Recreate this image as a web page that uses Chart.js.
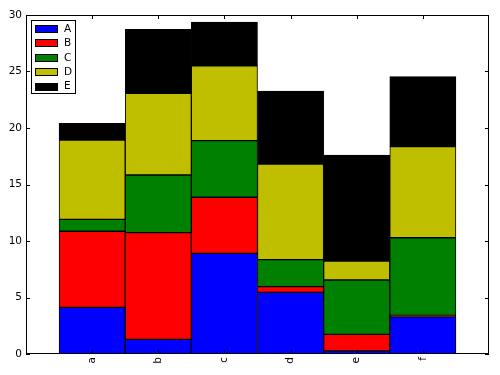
<!DOCTYPE html>
<html>
<head>
<meta charset="utf-8">
<script src="https://cdn.jsdelivr.net/npm/chart.js@4/dist/chart.umd.min.js"></script>
<style>
  html, body { margin: 0; padding: 0; background: #fff; }
  #chart { display: block; }
</style>
</head>
<body>
<canvas id="chart" width="500" height="375"></canvas>
<script>
// ── Data ───────────────────────────────────────────────────
const categories = ['a', 'b', 'c', 'd', 'e', 'f'];
const seriesNames = ['A', 'B', 'C', 'D', 'E'];
const seriesA = [4.13, 1.30, 8.91, 5.46, 0.27, 3.30];
const seriesB = [6.73, 9.44, 4.96, 0.50, 1.47, 0.12];
const seriesC = [1.06, 5.10, 5.01, 2.39, 4.81, 6.87];
const seriesD = [7.02, 7.23, 6.63, 8.46, 1.68, 8.06];
const seriesE = [1.48, 5.66, 3.87, 6.46, 9.38, 6.19];
const yTicks = [0, 5, 10, 15, 20, 25, 30];

const colors = ['#0000ff', '#ff0000', '#008000', '#bfbf00', '#000000'];
const FONT = '10.5px "DejaVu Sans"';

const datasets = [seriesA, seriesB, seriesC, seriesD, seriesE].map((vals, i) => ({
    label: seriesNames[i],
    data: vals.map((v, j) => ({ x: j, y: v })),
    backgroundColor: colors[i],
    borderColor: '#000',
    borderWidth: 1,
    borderSkipped: false,
    barPercentage: 1.0,
    categoryPercentage: 1.0
}));

// ── Frame, inward ticks and legend (matplotlib look) ───────
const framePlugin = {
    id: 'frame',
    afterDatasetsDraw(chart) {
        const { ctx, chartArea: a, scales } = chart;
        ctx.save();
        ctx.strokeStyle = '#000';
        ctx.lineWidth = 1;
        ctx.strokeRect(Math.round(a.left) + 0.5, Math.round(a.top) + 0.5,
                       Math.round(a.right - a.left) - 1, Math.round(a.bottom - a.top) - 1);

        const tl = 4;
        ctx.beginPath();
        categories.forEach((c, i) => {
            const x = Math.round(scales.x.getPixelForValue(i)) + 0.5;
            ctx.moveTo(x, a.bottom); ctx.lineTo(x, a.bottom - tl);
            ctx.moveTo(x, a.top); ctx.lineTo(x, a.top + tl);
        });
        yTicks.forEach(v => {
            const y = Math.round(scales.y.getPixelForValue(v)) + 0.5;
            ctx.moveTo(a.left, y); ctx.lineTo(a.left + tl, y);
            ctx.moveTo(a.right, y); ctx.lineTo(a.right - tl, y);
        });
        ctx.stroke();

        // legend box
        const bx = 31.5, by = 20.5, bw = 44, bh = 73;
        ctx.fillStyle = '#fff';
        ctx.fillRect(bx, by, bw, bh);
        ctx.strokeRect(bx, by, bw, bh);
        ctx.font = FONT;
        ctx.textBaseline = 'middle';
        chart.data.datasets.forEach((ds, i) => {
            const cy = 28.5 + i * 14.4;
            ctx.fillStyle = ds.backgroundColor;
            ctx.fillRect(35.5, Math.round(cy - 3.5) + 0.5, 22, 7);
            ctx.strokeRect(35.5, Math.round(cy - 3.5) + 0.5, 22, 7);
            ctx.fillStyle = '#000';
            ctx.fillText(ds.label, 64, cy + 0.5);
        });
        ctx.restore();
    }
};

new Chart(document.getElementById('chart'), {
    type: 'bar',
    data: { datasets },
    options: {
        responsive: false,
        animation: false,
        devicePixelRatio: 1,
        layout: { padding: { top: 15, right: 11, left: 0, bottom: 0 } },
        plugins: { legend: { display: false }, tooltip: { enabled: false } },
        scales: {
            x: {
                type: 'linear',
                stacked: true,
                offset: false,
                min: -1, max: 6,
                grid: { display: false, drawTicks: false },
                border: { display: false },
                afterFit: s => { s.height = 21; },
                afterBuildTicks: s => { s.ticks = categories.map((c, i) => ({ value: i })); },
                ticks: {
                    autoSkip: false,
                    minRotation: 90, maxRotation: 90,
                    padding: 3,
                    color: '#000',
                    font: { family: 'DejaVu Sans', size: 10.5 },
                    callback: v => categories[v] ?? ''
                }
            },
            y: {
                stacked: true,
                min: 0, max: 30,
                grid: { display: false, drawTicks: false },
                border: { display: false },
                afterFit: s => { s.width = 26; },
                ticks: {
                    stepSize: 5,
                    padding: 4,
                    color: '#000',
                    font: { family: 'DejaVu Sans', size: 10.5 }
                }
            }
        }
    },
    plugins: [framePlugin]
});
</script>
</body>
</html>
